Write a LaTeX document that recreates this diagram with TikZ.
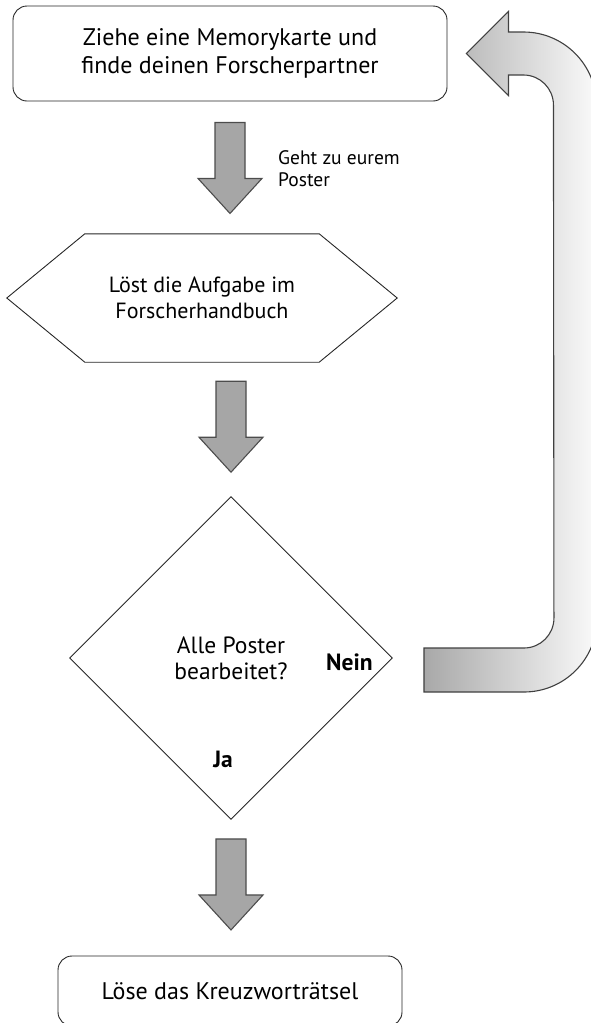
\documentclass[tikz,border=0pt]{standalone}
\usepackage{fontspec}
\setmainfont{PT Sans}
\usepackage{tikz}
\usetikzlibrary{shapes.geometric, positioning, calc}

\tikzstyle{box} = [rectangle, draw=black!85, line width=0.9pt, rounded corners=14pt, align=center, font=\fontsize{24}{27.5}\selectfont]
\tikzstyle{hexbox} = [rectangle, minimum width=390pt, minimum height=128pt, align=center, font=\fontsize{22}{26.5}\selectfont]
\tikzstyle{decision} = [diamond, draw=black!85, line width=0.9pt, minimum width=323pt, minimum height=323pt, inner sep=0pt, align=center, font=\fontsize{23.5}{26}\selectfont]
\tikzstyle{outline} = [draw=black!85, line width=0.9pt]
\tikzstyle{blockarrow} = [draw=black!70, line width=1.1pt, fill=black!35]
\tikzstyle{returnarrow} = [draw=black!75, line width=1.1pt, left color=black!34, right color=black!2]
\tikzstyle{smalllabel} = [inner sep=0pt, align=left, font=\fontsize{19.5}{22}\selectfont]
\tikzstyle{answer} = [inner sep=0pt, font=\bfseries\fontsize{23.5}{26}\selectfont]

\tikzset{downarrow/.pic={
    \draw[blockarrow] (-15,0) -- (15,0) -- (15,-56) -- (32,-56) -- (0,-91) -- (-32,-56) -- (-15,-56) -- cycle;
}}

\begin{document}
\begin{tikzpicture}[x=1pt, y=1pt]

        \useasboundingbox (0,0) rectangle (591,-1023);
        \clip (0,0) rectangle (591,-1023);

        % Nodes
        \node (start) [box, minimum width=434pt, minimum height=95pt] at (230,-53.5) {Ziehe eine Memorykarte und\\finde deinen Forscherpartner};
        \node (task) [hexbox] at (202,-298) {Löst die Aufgabe im\\Forscherhandbuch};
        \node (check) [decision] at (231,-658) {Alle Poster\\bearbeitet?};
        \node (finish) [box, minimum width=344pt, minimum height=70pt] at (230,-991) {Löse das Kreuzworträtsel};

        % Labels
        \node (hint) [smalllabel, anchor=west] at (278,-169) {Geht zu eurem\\Poster};
        \node (nein) [answer, left=20pt of check.east, yshift=-4pt] {Nein};
        \node (ja) [answer, above=52pt of check.south, xshift=-8pt] {Ja};

        % Hexagon outline round the task
        \draw [outline] (task.west) -- ($(task.north west)+(78,0)$) -- ($(task.north east)+(-78,0)$) -- (task.east)
            -- ($(task.south east)+(-78,0)$) -- ($(task.south west)+(78,0)$) -- cycle;

        % Block arrows
        \pic at ([yshift=-21pt]start.south) {downarrow};
        \pic at ($(task.south -| check.north)+(0,-19)$) {downarrow};
        \pic at ([yshift=-19pt]check.south) {downarrow};

        % Return arrow (Nein) back to the start
        \coordinate (tip) at ([xshift=19pt]start.east);
        \coordinate (tail) at ([xshift=31pt,yshift=-12pt]check.east);
        \draw [returnarrow] (tip) -- ($(tip)+(42,42)$) -- ($(tip)+(42,21.5)$) -- ($(tip)+(57,21.5)$)
            arc[start angle=90, end angle=0, radius=73pt] -- ($(tail)+(173,51)$)
            arc[start angle=0, end angle=-90, radius=73pt] -- ($(tail)+(0,-22)$) -- ($(tail)+(0,22)$) -- ($(tail)+(100,22)$)
            arc[start angle=-90, end angle=0, radius=30pt] -- ($(tip)+(87,-51.5)$)
            arc[start angle=0, end angle=90, radius=30pt] -- ($(tip)+(42,-21.5)$) -- ($(tip)+(42,-42)$) -- cycle;

    \end{tikzpicture}
\end{document}
